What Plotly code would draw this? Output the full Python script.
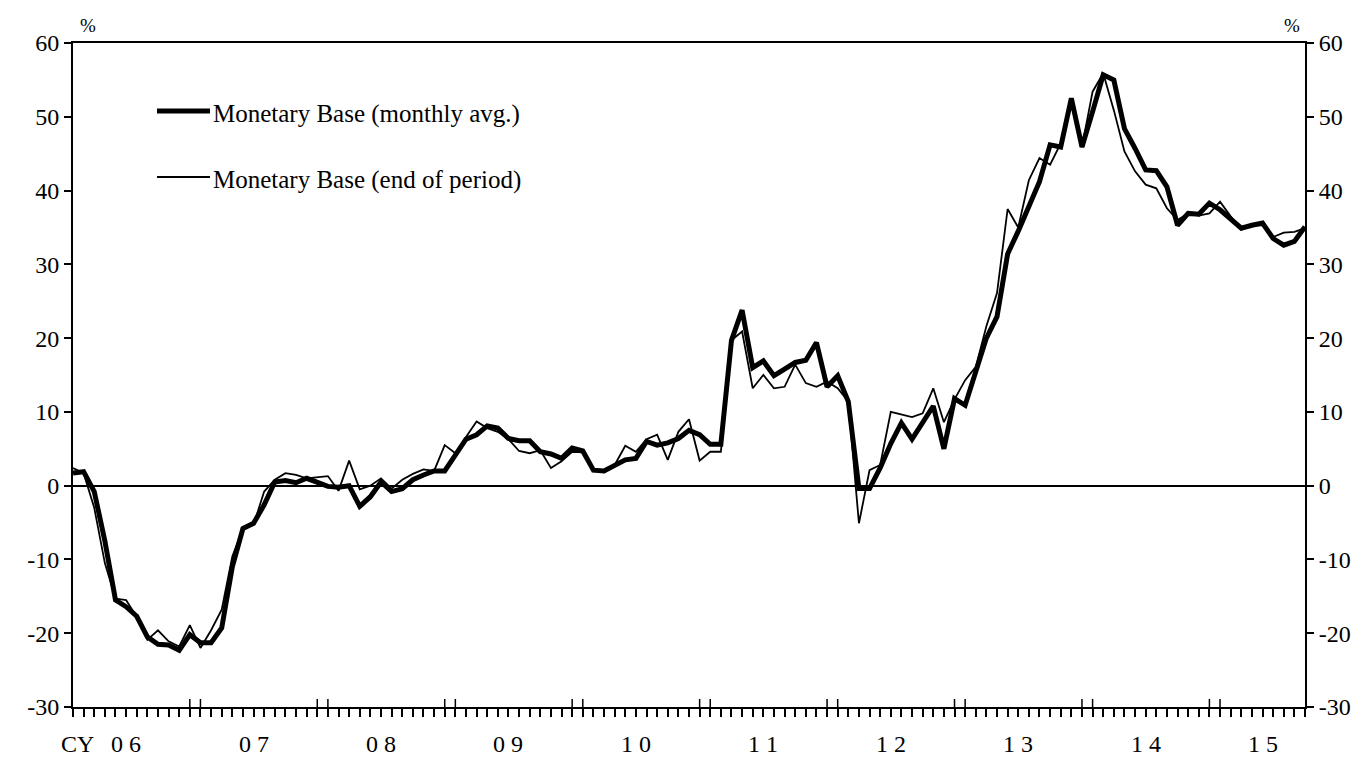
import plotly.graph_objects as go

# monthly, Jan 2006 .. Sep 2015 (y/y % change)
months = list(range(117))

base_avg = [
    1.7, 1.9, -0.8, -7.5, -15.5, -16.4, -17.7, -20.5, -21.5, -21.6, -22.3, -20.2,
    -21.3, -21.3, -19.3, -11.0, -5.8, -5.1, -2.6, 0.5, 0.7, 0.4, 1.0, 0.5,
    -0.1, -0.2, 0.0, -2.8, -1.5, 0.5, -0.8, -0.4, 0.8, 1.45, 2.0, 2.0,
    4.2, 6.3, 6.9, 8.1, 7.8, 6.4, 6.1, 6.1, 4.6, 4.3, 3.7, 5.1,
    4.7, 2.1, 2.0, 2.8, 3.5, 3.7, 6.0, 5.5, 5.8, 6.4, 7.5, 6.9,
    5.6, 5.6, 19.7, 23.8, 16.0, 16.9, 14.9, 15.8, 16.7, 17.0, 19.4, 13.4,
    14.9, 11.4, -0.4, -0.4, 2.4, 5.7, 8.5, 6.3, 8.5, 10.8, 5.0, 11.8,
    10.9, 15.7, 20.0, 22.9, 31.4, 34.5, 38.0, 41.2, 46.2, 45.9, 52.5, 45.9,
    50.7, 55.7, 55.0, 48.4, 45.7, 42.8, 42.7, 40.5, 35.3, 36.9, 36.8, 38.3,
    37.4, 36.2, 34.9, 35.3, 35.6, 33.5, 32.6, 33.1, 35.1,
]

base_eop = [
    2.4, 1.7, -3.0, -10.5, -15.3, -15.5, -17.8, -20.9, -19.6, -21.1, -21.8, -18.9,
    -22.0, -19.6, -16.8, -9.6, -5.8, -5.3, -0.8, 0.8, 1.7, 1.45, 1.0, 1.2,
    1.3, -0.7, 3.4, -0.5, 0.0, 1.0, -0.4, 0.8, 1.6, 2.2, 2.0, 5.5,
    4.4, 6.6, 8.7, 7.8, 7.3, 6.3, 4.7, 4.4, 4.8, 2.4, 3.3, 4.6,
    4.5, 2.1, 1.8, 2.8, 5.4, 4.6, 6.3, 6.9, 3.5, 7.3, 9.0, 3.4,
    4.6, 4.6, 19.7, 20.9, 13.2, 15.0, 13.2, 13.4, 16.4, 13.9, 13.4, 14.1,
    13.2, 11.4, -5.1, 2.1, 2.8, 10.0, 9.6, 9.3, 9.8, 13.2, 8.6, 11.7,
    14.3, 16.1, 21.6, 26.1, 37.5, 35.0, 41.4, 44.4, 43.5, 46.4, 52.5, 45.9,
    53.4, 55.9, 50.9, 45.3, 42.6, 40.8, 40.3, 37.6, 36.0, 36.9, 36.6, 36.9,
    38.5, 36.5, 34.7, 35.3, 35.3, 33.7, 34.3, 34.4, 34.9,
]

y_ticks = [60, 50, 40, 30, 20, 10, 0, -10, -20, -30]
y_ticktext = ["60", "50", "40", "30", "20", "10", "0", "-10", "-20", "-30"]

year_labels = ["0 6", "0 7", "0 8", "0 9", "1 0", "1 1", "1 2", "1 3", "1 4", "1 5"]
year_label_pos = [5, 17, 29, 41, 53, 65, 77, 89, 101, 112]
year_breaks = [b for y in range(1, 10) for b in (12 * y - 1, 12 * y)]

FONT = "Liberation Serif"
OFF = 8  # default body margin of the html page
W, H = 1368 - OFF, 758 - OFF
# plot area in page pixels: x 73..1305, y 43..707
L, T = 73 - OFF, 43 - OFF
R, B = W - (1305 - OFF), H - (707 - OFF)


def px(x):
    return (x - OFF - L) / (W - L - R)


def py(y):
    return (H - B - (y - OFF)) / (H - T - B)


fig = go.Figure()
fig.add_trace(go.Scatter(x=months, y=base_avg, mode="lines", name="Monetary Base (monthly avg.)",
                         line=dict(color="black", width=5), showlegend=False))
fig.add_trace(go.Scatter(x=months, y=base_eop, mode="lines", name="Monetary Base (end of period)",
                         line=dict(color="black", width=1.8), showlegend=False))
# invisible trace so the right-hand axis is drawn
fig.add_trace(go.Scatter(x=[0], y=[0], yaxis="y2", mode="markers", marker=dict(opacity=0),
                         showlegend=False, hoverinfo="skip"))

yax = dict(range=[-30, 60], tickvals=y_ticks, ticktext=y_ticktext, ticks="outside", ticklen=7,
           tickwidth=1.5, tickcolor="black", showline=True, linewidth=2, linecolor="black",
           showgrid=False, automargin=False,
           tickfont=dict(family=FONT, size=24, color="black"))
fig.update_layout(
    width=W, height=H,
    margin=dict(l=L, r=R, t=T, b=B),
    paper_bgcolor="white", plot_bgcolor="white",
    xaxis=dict(range=[0, 116], tickvals=months, ticks="outside", ticklen=8, tickwidth=1.5,
               tickcolor="black", showticklabels=False, showline=True, linewidth=2,
               linecolor="black", mirror=True, showgrid=False, zeroline=False, automargin=False),
    yaxis=dict(**yax, zeroline=True, zerolinewidth=2, zerolinecolor="black"),
    yaxis2=dict(**yax, overlaying="y", side="right", matches="y", zeroline=False),
)

# taller ticks at the turn of each year (inner part)
for b in year_breaks:
    fig.add_shape(type="line", xref="x", yref="paper", x0=b, x1=b, ysizemode="pixel",
                  yanchor=0, y0=0, y1=8, line=dict(color="black", width=1.5))

for lab, pos in zip(year_labels, year_label_pos):
    fig.add_annotation(x=pos, y=py(744), xref="x", yref="paper", text=lab, showarrow=False,
                       xanchor="center", yanchor="middle",
                       font=dict(family=FONT, size=24, color="black"))
fig.add_annotation(x=px(77), y=py(744), xref="paper", yref="paper", text="CY", showarrow=False,
                   xanchor="center", yanchor="middle",
                   font=dict(family=FONT, size=24, color="black"))

for xx in (88, 1292):
    fig.add_annotation(x=px(xx), y=py(25), xref="paper", yref="paper", text="%", showarrow=False,
                       xanchor="center", yanchor="middle",
                       font=dict(family=FONT, size=19, color="black"))

# legend drawn by hand
for yy, wd, txt in ((111, 5, "Monetary Base (monthly avg.)"), (177, 1.8, "Monetary Base (end of period)")):
    fig.add_shape(type="line", xref="paper", yref="paper", x0=px(157), x1=px(210),
                  y0=py(yy), y1=py(yy), line=dict(color="black", width=wd))
    fig.add_annotation(x=px(211), y=py(yy + 3), xref="paper", yref="paper", text=txt,
                       showarrow=False, xanchor="left", yanchor="middle",
                       font=dict(family=FONT, size=25, color="black"))

fig.write_html("out.html")
